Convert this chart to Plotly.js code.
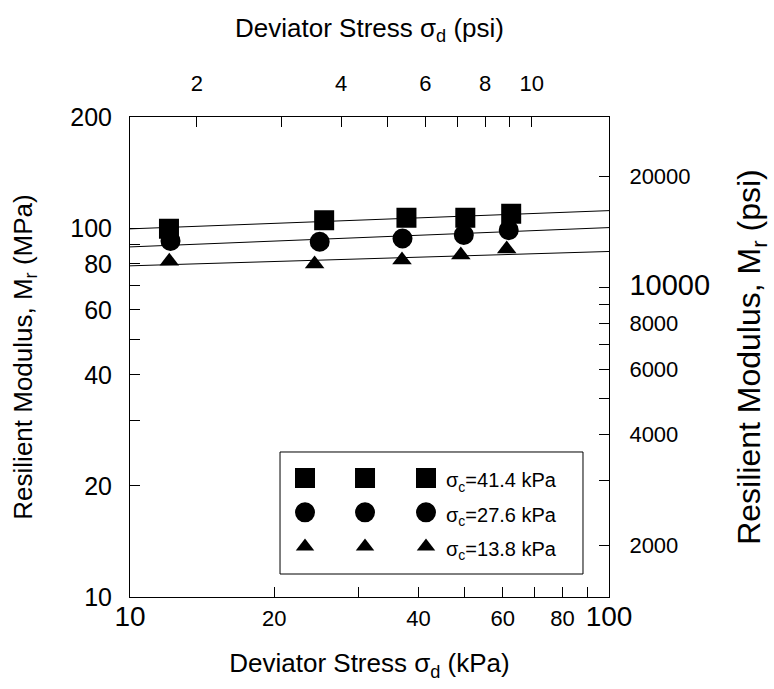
<!DOCTYPE html>
<html>
<head>
<meta charset="utf-8">
<script src="https://cdn.plot.ly/plotly-3.0.1.min.js"></script>
<style>html,body{margin:0;padding:0;background:#fff;}</style>
</head>
<body>
<div id="chart" style="width:774px;height:689px;"></div>
<script>
// ---- data ----
const seriesNames = ['σ<sub>c</sub>=41.4 kPa', 'σ<sub>c</sub>=27.6 kPa', 'σ<sub>c</sub>=13.8 kPa'];
const stress41 = [12.06, 25.43, 37.77, 50.12, 62.49];
const modulus41 = [99.5, 105.0, 106.6, 106.6, 109.3];
const stress28 = [12.15, 24.89, 37.06, 49.76, 61.75];
const modulus28 = [92.3, 91.8, 93.7, 95.8, 98.7];
const stress14 = [12.08, 24.29, 36.97, 49.05, 61.16];
const modulus14 = [81.3, 79.9, 81.9, 84.5, 87.7];
// fitted trend lines (end points at 10 and 100 kPa)
const fitStress = [10, 100];
const fit41 = [99.5, 111.5];
const fit28 = [88.9, 100.3];
const fit14 = [79.0, 86.4];
// ticks (labelled) and minor ticks (unlabelled)
const kpaTickVals = [10, 20, 40, 60, 80, 100];
const kpaTickText = ['BIG:10', '20', '40', '60', '80', 'BIG:100'];
const kpaMinorVals = [30, 50, 70, 90];
const psiStressTickVals = [2, 4, 6, 8, 10];
const psiStressTickText = ['2', '4', '6', '8', '10'];
const psiStressMinorVals = [3, 5, 7, 9];
const mpaTickVals = [10, 20, 40, 60, 80, 100, 200];
const mpaTickText = ['10', '20', '40', '60', '80', '100', '200'];
const mpaMinorVals = [30, 50, 70, 90];
const psiModTickVals = [2000, 4000, 6000, 8000, 10000, 20000];
const psiModTickText = ['2000', '4000', '6000', '8000', 'BIG:10000', '20000'];
const psiModMinorVals = [3000, 5000, 7000, 9000];
const symbols = ['square', 'circle', 'triangle-up'];

// ---- unit conversion constants ----
const KPA_PER_PSI = 6.894757;
const PSI_PER_MPA = 145.0377;
const xRangeKPa = [10, 100];
const yRangeMPa = [10, 200];

function big(t, size) {
  return t.indexOf('BIG:') === 0 ? '<span style="font-size:' + size + 'px">' + t.slice(4) + '</span>' : t;
}

const FONT = 'Liberation Sans, Arial, Helvetica, sans-serif';
const markerStyles = [
  {size: 16, line: {color: '#000', width: 4}},
  {size: 16, line: {color: '#000', width: 4}},
  {size: 17, line: {color: '#000', width: 0}}
];

const stresses = [stress41, stress28, stress14];
const moduli = [modulus41, modulus28, modulus14];
const fits = [fit41, fit28, fit14];

function markerFor(i) {
  return {symbol: symbols[i], size: markerStyles[i].size, color: '#000', line: markerStyles[i].line};
}

const traces = [];
fits.forEach(function (f) {
  traces.push({x: fitStress, y: f, mode: 'lines', line: {color: '#000', width: 1},
    showlegend: false, hoverinfo: 'skip'});
});
for (let i = 0; i < 3; i++) {
  traces.push({x: stresses[i], y: moduli[i], mode: 'markers',
    name: '<span style="font-size:20px">' + seriesNames[i] + '</span>',
    marker: markerFor(i), legend: 'legend3'});
}
// extra legend columns (symbols only)
['legend', 'legend2'].forEach(function (lg) {
  for (let i = 0; i < 3; i++) {
    traces.push({x: [null], y: [null], mode: 'markers', name: ' ',
      marker: markerFor(i), legend: lg});
  }
});
// dummy trace for secondary axes
traces.push({x: [], y: [], xaxis: 'x2', yaxis: 'y2', showlegend: false, hoverinfo: 'skip'});

function axisCommon(minorVals) {
  return {
    type: 'log', ticks: 'inside', ticklen: 10, tickcolor: '#000', tickwidth: 1,
    showline: true, linecolor: '#000', linewidth: 1, showgrid: false, zeroline: false,
    tickmode: 'array', fixedrange: true,
    minor: {tickmode: 'array', tickvals: minorVals, ticks: 'inside', ticklen: 10,
      tickcolor: '#000', tickwidth: 1, showgrid: false}
  };
}

const legendCommon = {
  bgcolor: 'rgba(0,0,0,0)', borderwidth: 0, font: {family: FONT, size: 24, color: '#000'},
  xanchor: 'left', yanchor: 'top', itemsizing: 'trace', tracegroupgap: 0
};

const layout = {
  width: 774, height: 689,
  margin: {l: 130, r: 165, t: 117, b: 92},
  paper_bgcolor: '#fff', plot_bgcolor: '#fff',
  font: {family: FONT, color: '#000'},
  showlegend: true,
  xaxis: Object.assign(axisCommon(kpaMinorVals), {
    range: xRangeKPa.map(Math.log10),
    tickvals: kpaTickVals, ticktext: kpaTickText.map(function (t) { return big(t, 28); }),
    tickfont: {family: FONT, size: 22, color: '#000'}, ticklabelstandoff: 2,
    title: {text: 'Deviator Stress σ<sub>d</sub> (kPa)', font: {family: FONT, size: 26, color: '#000'}, standoff: 22}
  }),
  xaxis2: Object.assign(axisCommon(psiStressMinorVals), {
    overlaying: 'x', side: 'top', anchor: 'y',
    range: xRangeKPa.map(function (v) { return Math.log10(v / KPA_PER_PSI); }),
    tickvals: psiStressTickVals, ticktext: psiStressTickText,
    tickfont: {family: FONT, size: 22, color: '#000'}, ticklabelstandoff: 16,
    title: {text: 'Deviator Stress σ<sub>d</sub> (psi)', font: {family: FONT, size: 26, color: '#000'}, standoff: 26}
  }),
  yaxis: Object.assign(axisCommon(mpaMinorVals), {
    range: yRangeMPa.map(Math.log10),
    tickvals: mpaTickVals, ticktext: mpaTickText,
    tickfont: {family: FONT, size: 25, color: '#000'}, ticklabelstandoff: 12,
    title: {text: 'Resilient Modulus, M<sub>r</sub> (MPa)', font: {family: FONT, size: 26, color: '#000'}, standoff: 30}
  }),
  yaxis2: Object.assign(axisCommon(psiModMinorVals), {
    overlaying: 'y', side: 'right', anchor: 'x',
    range: yRangeMPa.map(function (v) { return Math.log10(v * PSI_PER_MPA); }),
    tickvals: psiModTickVals, ticktext: psiModTickText.map(function (t) { return big(t, 29); }),
    tickfont: {family: FONT, size: 22, color: '#000'}, ticklabelstandoff: 15,
    title: {text: 'Resilient Modulus, M<sub>r</sub> (psi)', font: {family: FONT, size: 32, color: '#000'}, standoff: 28}
  }),
  legend: Object.assign({}, legendCommon, {x: 0.3236, y: 0.2937}),
  legend2: Object.assign({}, legendCommon, {x: 0.4489, y: 0.2937}),
  legend3: Object.assign({}, legendCommon, {x: 0.5762, y: 0.2937}),
  shapes: [{type: 'rect', xref: 'paper', yref: 'paper', x0: 0.3132, x1: 0.9457, y0: 0.0479, y1: 0.3021,
    line: {color: '#000', width: 1}, fillcolor: 'rgba(0,0,0,0)', layer: 'below'}]
};

Plotly.newPlot('chart', traces, layout, {displayModeBar: false, staticPlot: true});
</script>
</body>
</html>
